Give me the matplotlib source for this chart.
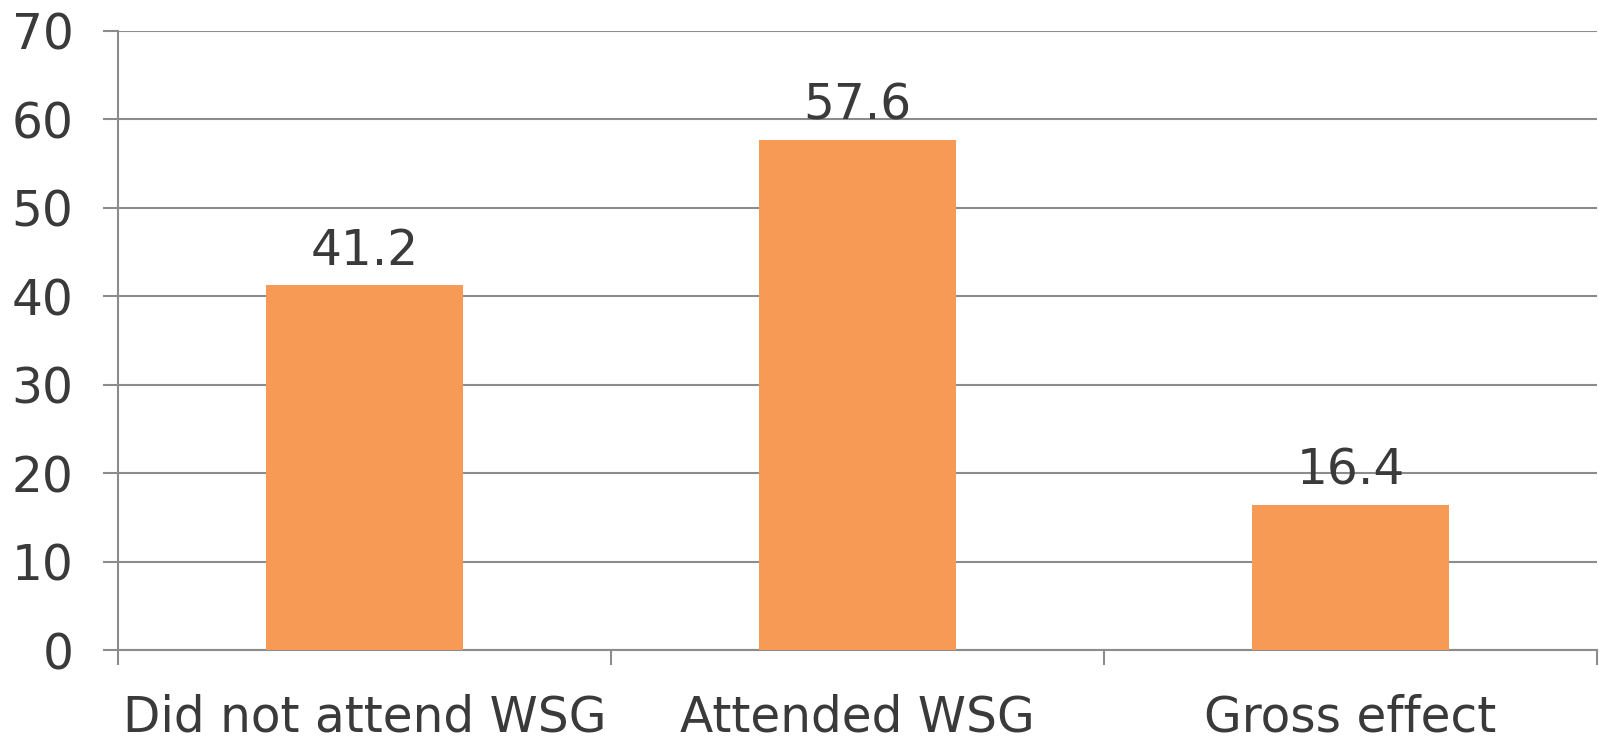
import numpy as np
import matplotlib
matplotlib.use("Agg")
import matplotlib.pyplot as plt

# Данные
categories = ["Did not attend WSG", "Attended WSG", "Gross effect"]
values = [41.2, 57.6, 16.4]
yticks = [0, 10, 20, 30, 40, 50, 60, 70]

bar_color = "#F79A55"
text_color = "#3A3A3A"
grid_color = "#8C8C8C"

fig = plt.figure(figsize=(15.99, 7.38), dpi=100)
ax = fig.add_axes([0.0738, 0.1192, 0.9249, 0.8393])

x = np.arange(len(categories))
bars = ax.bar(x, values, width=0.4, color=bar_color, zorder=3)

for b, v in zip(bars, values):
    ax.text(b.get_x() + b.get_width() / 2, v + 1.2, f"{v:.1f}",
            ha="center", va="bottom", fontsize=35, color=text_color)

ax.set_xlim(-0.5, len(categories) - 0.5)
ax.set_ylim(0, 70)
ax.set_yticks(yticks)
ax.set_yticklabels([str(t) for t in yticks])
ax.yaxis.grid(True, color=grid_color, linewidth=1.5, zorder=0)

# подписи категорий без тиков, тики на границах
ax.set_xticks(x)
ax.set_xticklabels(categories)
ax.tick_params(axis="x", which="major", length=0, pad=31, labelsize=35, labelcolor=text_color)
ax.set_xticks(np.arange(-0.5, len(categories), 1.0), minor=True)
ax.tick_params(axis="x", which="minor", length=11, width=1.5, color=grid_color)
ax.tick_params(axis="y", length=11, width=1.5, color=grid_color, pad=21,
               labelsize=35, labelcolor=text_color)

for s in ["top", "right"]:
    ax.spines[s].set_visible(False)
for s in ["left", "bottom"]:
    ax.spines[s].set_color(grid_color)
    ax.spines[s].set_linewidth(1.5)

fig.savefig("out.png", dpi=100)
